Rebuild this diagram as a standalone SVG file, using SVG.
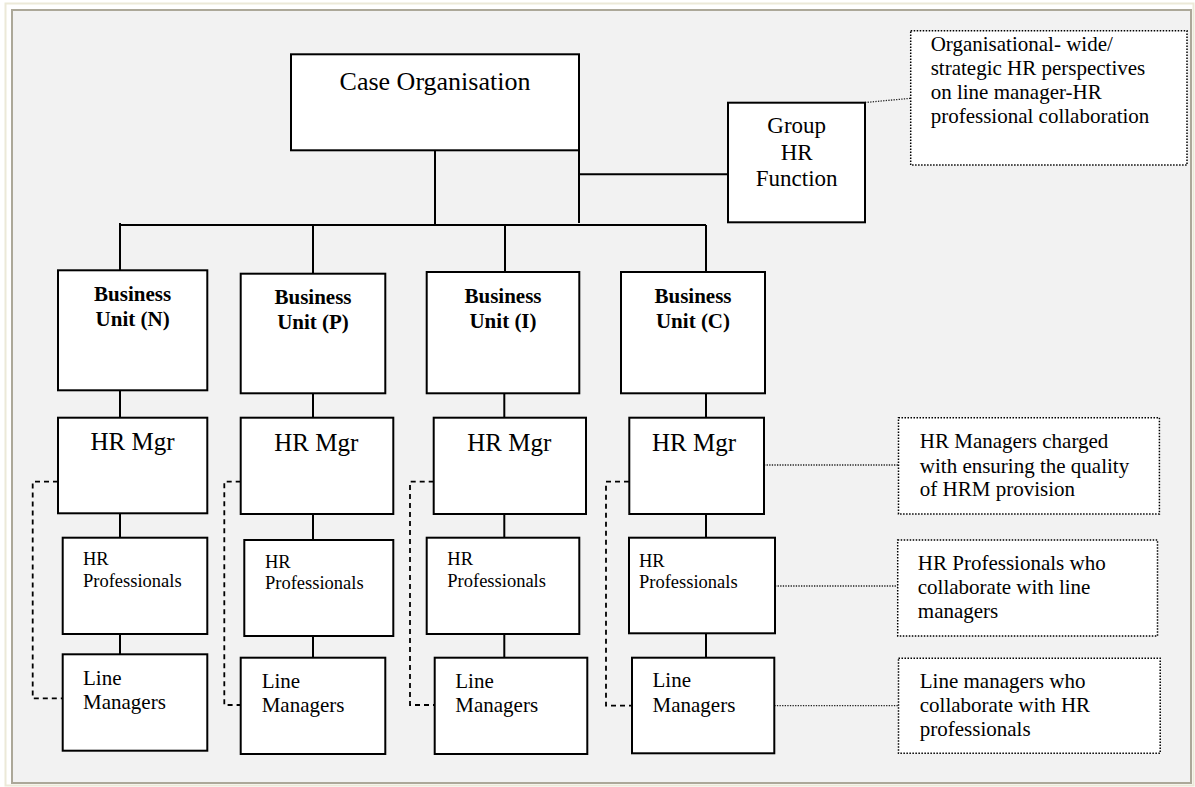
<svg xmlns="http://www.w3.org/2000/svg" width="1195" height="787" viewBox="0 0 1195 787">
  <style>
    text { font-family: "Liberation Serif", "Times New Roman", serif; fill: #000; }
    .box { fill: #fff; stroke: #000; stroke-width: 2; }
    .note { fill: #fff; stroke: #000; stroke-width: 1.5; stroke-dasharray: 1.5 1.5; }
    .wire { fill: none; stroke: #000; stroke-width: 2; }
    .dash { fill: none; stroke: #000; stroke-width: 1.8; stroke-dasharray: 5 4; }
    .dot { fill: none; stroke: #222; stroke-width: 1.3; stroke-dasharray: 1.3 1.3; }
    .org { font-size: 26px; text-anchor: middle; }
    .grp { font-size: 23px; text-anchor: middle; }
    .bu { font-size: 21px; font-weight: bold; text-anchor: middle; }
    .mgr { font-size: 25px; text-anchor: middle; }
    .prof { font-size: 18.5px; }
    .line { font-size: 21px; }
    .txt { font-size: 21px; }
  </style>

  <!-- page frame and grey canvas -->
  <rect x="0" y="0" width="1195" height="787" fill="#fff"/>
  <rect x="5.5" y="3.5" width="1188" height="782" fill="none" stroke="#ECE9D8" stroke-width="2"/>
  <rect x="12" y="10" width="1179" height="773" fill="#F2F2F2" stroke="#ACA899" stroke-width="2"/>

  <!-- connectors -->
  <g id="connectors">
    <path class="wire" d="M435,150 V225"/>
    <path class="wire" d="M120,225 H706"/>
    <path class="wire" d="M120,223 V270"/>
    <path class="wire" d="M313,225 V274"/>
    <path class="wire" d="M505,225 V272"/>
    <path class="wire" d="M706,225 V272"/>
    <path class="wire" d="M579,150 V223"/>
    <path class="wire" d="M579,174.3 H728"/>

    <path class="wire" d="M120,390 V418"/>
    <path class="wire" d="M313,393 V418"/>
    <path class="wire" d="M504.3,393 V418"/>
    <path class="wire" d="M706,393 V418"/>

    <path class="wire" d="M120,513 V538"/>
    <path class="wire" d="M313,514 V540"/>
    <path class="wire" d="M504.3,514 V538"/>
    <path class="wire" d="M706,514 V538"/>

    <path class="wire" d="M120,634 V654"/>
    <path class="wire" d="M313,636 V658"/>
    <path class="wire" d="M504.3,634 V658"/>
    <path class="wire" d="M706,633 V658"/>

    <path class="dash" d="M58,481.7 H32.7 V698.3 H62.7"/>
    <path class="dash" d="M240.7,481.7 H224.3 V705 H240.7"/>
    <path class="dash" d="M433.7,481.7 H410 V705 H434.7"/>
    <path class="dash" d="M629,481.7 H606 V705.7 H632"/>

    <path class="dot" d="M865,102.5 L910.7,98.3"/>
    <path class="dot" d="M764,465 H898.5"/>
    <path class="dot" d="M775,586 H897.7"/>
    <path class="dot" d="M774.3,705.7 H898.5"/>
  </g>

  <!-- top level -->
  <g id="case-organisation">
    <rect class="box" x="291" y="54.3" width="288" height="96"/>
    <text class="org" x="435" y="90">Case Organisation</text>
  </g>
  <g id="group-hr">
    <rect class="box" x="728" y="102.7" width="137" height="119.6"/>
    <text class="grp" x="796.7" y="133.3">Group</text>
    <text class="grp" x="796.7" y="160">HR</text>
    <text class="grp" x="796.7" y="186">Function</text>
  </g>

  <!-- business units -->
  <g id="bu-n">
    <rect class="box" x="58" y="270.3" width="149.3" height="120"/>
    <text class="bu" x="132.6" y="300.7">Business</text>
    <text class="bu" x="132.6" y="325.7">Unit (N)</text>
  </g>
  <g id="bu-p">
    <rect class="box" x="240.7" y="273.7" width="144.6" height="119.6"/>
    <text class="bu" x="313" y="304">Business</text>
    <text class="bu" x="313" y="329">Unit (P)</text>
  </g>
  <g id="bu-i">
    <rect class="box" x="426.7" y="272" width="152.6" height="121.3"/>
    <text class="bu" x="503" y="302.5">Business</text>
    <text class="bu" x="503" y="327.5">Unit (I)</text>
  </g>
  <g id="bu-c">
    <rect class="box" x="621" y="272" width="144" height="121.3"/>
    <text class="bu" x="693" y="302.5">Business</text>
    <text class="bu" x="693" y="327.5">Unit (C)</text>
  </g>

  <!-- HR managers -->
  <g id="hr-mgr-n">
    <rect class="box" x="58" y="417.7" width="149.3" height="95.6"/>
    <text class="mgr" x="132.5" y="450">HR Mgr</text>
  </g>
  <g id="hr-mgr-p">
    <rect class="box" x="240.7" y="417.7" width="152.6" height="96.3"/>
    <text class="mgr" x="316.3" y="450.7">HR Mgr</text>
  </g>
  <g id="hr-mgr-i">
    <rect class="box" x="433.7" y="417.7" width="152.3" height="96.3"/>
    <text class="mgr" x="509.3" y="450.7">HR Mgr</text>
  </g>
  <g id="hr-mgr-c">
    <rect class="box" x="629.3" y="417.7" width="134.7" height="96.3"/>
    <text class="mgr" x="694" y="450.7">HR Mgr</text>
  </g>

  <!-- HR professionals -->
  <g id="hr-prof-n">
    <rect class="box" x="62.7" y="537.7" width="144.6" height="96.3"/>
    <text class="prof" x="83" y="565">HR</text>
    <text class="prof" x="83" y="586.7">Professionals</text>
  </g>
  <g id="hr-prof-p">
    <rect class="box" x="244.3" y="540" width="149" height="96"/>
    <text class="prof" x="265" y="567.7">HR</text>
    <text class="prof" x="265" y="589.3">Professionals</text>
  </g>
  <g id="hr-prof-i">
    <rect class="box" x="426.7" y="537.7" width="152.6" height="96.3"/>
    <text class="prof" x="447.3" y="565">HR</text>
    <text class="prof" x="447.3" y="586.7">Professionals</text>
  </g>
  <g id="hr-prof-c">
    <rect class="box" x="629" y="537.7" width="146" height="95.6"/>
    <text class="prof" x="639" y="566.7">HR</text>
    <text class="prof" x="639" y="587.7">Professionals</text>
  </g>

  <!-- line managers -->
  <g id="line-mgr-n">
    <rect class="box" x="62.7" y="654.3" width="144.6" height="96.4"/>
    <text class="line" x="83" y="685">Line</text>
    <text class="line" x="83" y="709.3">Managers</text>
  </g>
  <g id="line-mgr-p">
    <rect class="box" x="240.7" y="657.7" width="144.6" height="96.3"/>
    <text class="line" x="261.7" y="688.3">Line</text>
    <text class="line" x="261.7" y="711.7">Managers</text>
  </g>
  <g id="line-mgr-i">
    <rect class="box" x="434.7" y="657.7" width="152.6" height="96.3"/>
    <text class="line" x="455.3" y="688.3">Line</text>
    <text class="line" x="455.3" y="711.7">Managers</text>
  </g>
  <g id="line-mgr-c">
    <rect class="box" x="632" y="657.7" width="142.3" height="95.6"/>
    <text class="line" x="652.5" y="687.3">Line</text>
    <text class="line" x="652.5" y="711.7">Managers</text>
  </g>

  <!-- explanatory notes -->
  <g id="note-strategic">
    <rect class="note" x="910.7" y="30.7" width="276.3" height="134.3"/>
    <text class="txt" x="930.7" y="50.7">Organisational- wide/</text>
    <text class="txt" x="930.7" y="75">strategic HR perspectives</text>
    <text class="txt" x="930.7" y="99">on line manager-HR</text>
    <text class="txt" x="930.7" y="122.7">professional collaboration</text>
  </g>
  <g id="note-hr-managers">
    <rect class="note" x="898.5" y="417.7" width="260.9" height="96.3"/>
    <text class="txt" x="919.8" y="448.3">HR Managers charged</text>
    <text class="txt" x="919.8" y="472.7">with ensuring the quality</text>
    <text class="txt" x="919.8" y="496">of HRM provision</text>
  </g>
  <g id="note-hr-professionals">
    <rect class="note" x="897.7" y="540" width="259.8" height="96"/>
    <text class="txt" x="917.8" y="570">HR Professionals who</text>
    <text class="txt" x="917.8" y="594">collaborate with line</text>
    <text class="txt" x="917.8" y="618">managers</text>
  </g>
  <g id="note-line-managers">
    <rect class="note" x="898.5" y="658.3" width="261.7" height="95"/>
    <text class="txt" x="919.8" y="687.7">Line managers who</text>
    <text class="txt" x="919.8" y="711.7">collaborate with HR</text>
    <text class="txt" x="919.8" y="736">professionals</text>
  </g>
</svg>
